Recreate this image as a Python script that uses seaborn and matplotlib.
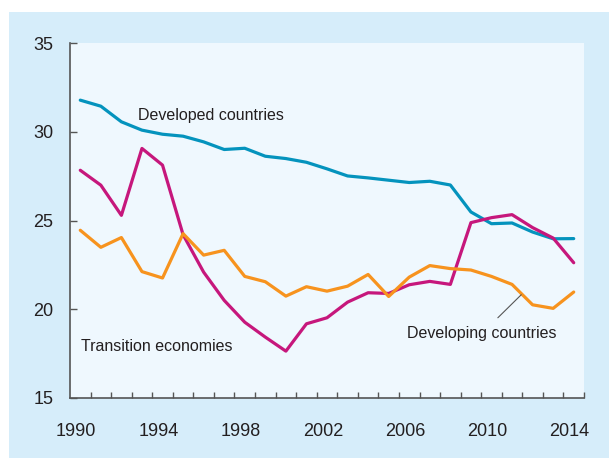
import numpy as np
import pandas as pd
import matplotlib.pyplot as plt
import matplotlib.transforms as mtransforms
import seaborn as sns
from matplotlib.patches import Rectangle

years = list(range(1990, 2015))

developed = [31.78, 31.44, 30.56, 30.09, 29.86, 29.75, 29.43, 29.00, 29.07, 28.62,
             28.49, 28.28, 27.91, 27.51, 27.40, 27.27, 27.14, 27.21, 27.00, 25.48,
             24.82, 24.86, 24.35, 23.97, 23.98]
transition = [27.83, 26.99, 25.29, 29.06, 28.12, 24.20, 22.09, 20.50, 19.27, 18.43,
              17.64, 19.18, 19.52, 20.40, 20.93, 20.89, 21.38, 21.57, 21.40, 24.88,
              25.16, 25.33, 24.60, 24.01, 22.62]
developing = [24.45, 23.49, 24.04, 22.12, 21.76, 24.26, 23.05, 23.32, 21.85, 21.55,
              20.74, 21.27, 21.02, 21.30, 21.96, 20.72, 21.81, 22.46, 22.29, 22.21,
              21.85, 21.40, 20.25, 20.05, 20.97]

groups = ["Developed countries", "Transition economies", "Developing countries"]
colors = {"Developed countries": "#0493BD",
          "Transition economies": "#C6177C",
          "Developing countries": "#F7931E"}

df = pd.DataFrame({
    "Year": years * 3,
    "Value": developed + transition + developing,
    "Group": [groups[0]] * len(years) + [groups[1]] * len(years) + [groups[2]] * len(years),
})

sns.set_style("white", {"axes.facecolor": "#EFF8FE"})
plt.rcParams['font.family'] = ['Liberation Sans', 'DejaVu Sans']

fig = plt.figure(figsize=(6.09, 4.58), dpi=100, facecolor="white")
# light blue frame behind the chart
fig.patches.append(Rectangle((9 / 609, 0), 1, 446 / 458, transform=fig.transFigure,
                             facecolor="#D6EDFA", edgecolor="none", zorder=-10))
ax = fig.add_axes([70 / 609, 60 / 458, 514 / 609, 355 / 458])

sns.lineplot(data=df, x="Year", y="Value", hue="Group", palette=colors,
             linewidth=2.3, legend=False, ax=ax)

ax.set_xlim(1989.5, 2014.5)
ax.set_ylim(15, 35)
ax.set_xticks(list(range(1990, 2015, 4)))
ax.set_xticks(np.arange(1990.5, 2015, 1), minor=True)
ax.set_yticks([15, 20, 25, 30, 35])
ax.tick_params(axis="x", which="major", bottom=True, length=0, pad=18, labelsize=13,
               labelcolor="#231F20")
ax.tick_params(axis="x", which="minor", bottom=True, direction="in", length=4.5, width=1,
               color="#555555")
ax.tick_params(axis="y", left=True, direction="in", length=4.8, width=1, color="#555555",
               pad=12, labelsize=13, labelcolor="#231F20")
ax.set_xlabel("")
ax.set_ylabel("")

# year labels sit a touch left of their data points
shift = mtransforms.ScaledTranslation(-3 / 72, 0, fig.dpi_scale_trans)
for lab in ax.get_xticklabels():
    lab.set_transform(lab.get_transform() + shift)

for side in ["top", "right"]:
    ax.spines[side].set_visible(False)
for side in ["left", "bottom"]:
    ax.spines[side].set_color("#555555")
    ax.spines[side].set_linewidth(1.2)

ax.text(1992.79, 30.94, "Developed countries", fontsize=11.5, color="#231F20", va="center")
ax.text(1990.03, 17.92, "Transition economies", fontsize=11.5, color="#231F20", va="center")
ax.text(2005.88, 18.65, "Developing countries", fontsize=11.5, color="#231F20", va="center")
ax.plot([2010.31, 2011.45], [19.52, 20.82], color="#555555", linewidth=0.8)

plt.savefig("out.png", dpi=100, facecolor=fig.get_facecolor())
